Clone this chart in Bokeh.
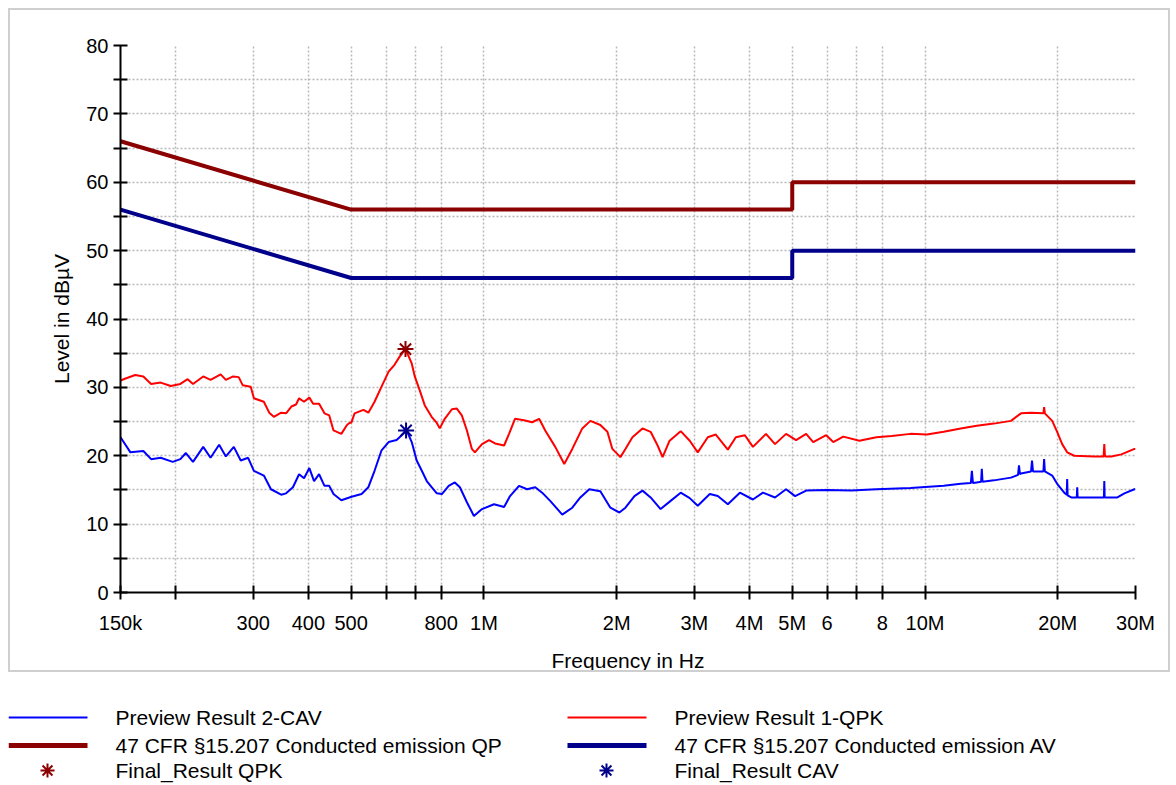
from bokeh.plotting import figure
from bokeh.models import Range1d, FixedTicker, CustomJSTickFormatter, Spacer
from bokeh.layouts import column, row
from bokeh.embed import file_html
from bokeh.resources import INLINE
from bokeh.core.properties import value

FONT = "Liberation Sans"

# ---------------- data ----------------
qpk_freq = [0.150, 0.154, 0.162, 0.169, 0.176, 0.185, 0.195, 0.205, 0.213, 0.219, 0.231, 0.240,
            0.253, 0.260, 0.270, 0.278, 0.284, 0.296, 0.301, 0.317, 0.326, 0.334, 0.347, 0.356,
            0.366, 0.375, 0.381, 0.391, 0.402, 0.410, 0.423, 0.435, 0.446, 0.456, 0.475, 0.488,
            0.493, 0.501, 0.509, 0.533, 0.547, 0.565, 0.586, 0.608, 0.627, 0.644, 0.664, 0.686,
            0.697, 0.715, 0.734, 0.761, 0.782, 0.794, 0.815, 0.846, 0.868, 0.891, 0.915, 0.939,
            0.954, 0.990, 1.027, 1.060, 1.111, 1.140, 1.176, 1.233, 1.286, 1.334, 1.377, 1.451,
            1.521, 1.586, 1.671, 1.743, 1.836, 1.905, 1.955, 2.039, 2.093, 2.171, 2.288, 2.387,
            2.476, 2.541, 2.636, 2.793, 2.928, 3.053, 3.217, 3.355, 3.572, 3.725, 3.905, 4.072,
            4.359, 4.570, 4.841, 5.102, 5.376, 5.577, 5.970, 6.193, 6.526, 7.100, 7.758, 8.400,
            9.272, 10.10, 11.02, 12.05, 13.10, 14.32, 15.66, 16.50, 17.39, 18.55, 18.62, 18.69,
            19.42, 19.93, 20.46, 21.00, 21.79, 24.19, 25.40, 25.49, 25.58, 26.45, 27.87, 29.83, 30.0]
qpk_level = [31.0, 31.3, 31.8, 31.6, 30.5, 30.7, 30.2, 30.5, 31.2, 30.5, 31.6, 31.1,
             31.9, 31.1, 31.6, 31.5, 30.3, 30.1, 28.4, 27.9, 26.3, 25.7, 26.3, 26.2,
             27.2, 27.5, 28.4, 27.9, 28.5, 27.6, 27.6, 26.2, 25.9, 23.7, 23.2, 24.4,
             24.7, 24.9, 26.2, 26.7, 26.3, 27.9, 30.1, 32.3, 33.3, 34.5, 35.6, 33.5,
             31.6, 29.6, 27.4, 25.7, 24.8, 24.0, 25.4, 26.8, 26.9, 25.9, 23.7, 21.0,
             20.5, 21.7, 22.3, 21.8, 21.5, 23.2, 25.4, 25.2, 24.9, 25.4, 23.7, 21.3,
             18.8, 21.0, 24.0, 25.1, 24.5, 23.5, 21.0, 19.8, 21.0, 22.7, 24.0, 23.5,
             21.5, 19.8, 22.2, 23.6, 22.2, 20.5, 22.7, 23.1, 20.9, 22.7, 23.0, 21.3,
             23.2, 21.7, 23.2, 22.3, 23.2, 22.0, 23.0, 22.0, 22.8, 22.2, 22.7, 22.9,
             23.2, 23.1, 23.5, 24.0, 24.4, 24.7, 25.1, 26.2, 26.3, 26.2, 27.1, 26.2,
             25.1, 23.5, 21.7, 20.5, 20.0, 19.9, 19.9, 21.7, 19.9, 19.9, 20.2, 21.0, 21.0]

cav_freq = [0.150, 0.158, 0.169, 0.176, 0.185, 0.197, 0.205, 0.211, 0.219, 0.231, 0.240, 0.251,
            0.260, 0.271, 0.281, 0.292, 0.301, 0.317, 0.329, 0.347, 0.356, 0.369, 0.381, 0.391,
            0.402, 0.412, 0.423, 0.435, 0.446, 0.456, 0.475, 0.501, 0.528, 0.547, 0.565, 0.586,
            0.608, 0.634, 0.651, 0.668, 0.686, 0.704, 0.723, 0.742, 0.761, 0.782, 0.803, 0.832,
            0.859, 0.882, 0.915, 0.949, 0.990, 1.054, 1.111, 1.146, 1.201, 1.253, 1.307, 1.355,
            1.413, 1.505, 1.586, 1.654, 1.733, 1.836, 1.935, 2.028, 2.093, 2.194, 2.288, 2.387,
            2.515, 2.650, 2.793, 2.928, 3.053, 3.251, 3.390, 3.572, 3.804, 4.072, 4.291, 4.570,
            4.841, 5.075, 5.376, 5.970, 6.806, 7.758, 9.272, 11.02, 12.05, 12.70, 12.77, 12.84,
            13.10, 13.40, 13.45, 13.50, 14.32, 15.66, 16.25, 16.33, 16.41, 16.50, 17.39, 17.48,
            17.57, 18.55, 18.62, 18.69, 19.42, 19.93, 20.68, 20.95, 21.00, 21.05, 21.45, 22.08,
            22.13, 22.18, 25.44, 25.49, 25.54, 27.29, 28.31, 29.83, 30.0]
cav_level = [22.7, 20.5, 20.7, 19.5, 19.7, 19.1, 19.5, 20.4, 19.1, 21.3, 19.7, 21.6,
             19.9, 21.3, 19.3, 19.7, 17.8, 17.1, 15.1, 14.3, 14.5, 15.4, 17.3, 16.7,
             18.2, 16.3, 17.3, 15.6, 15.6, 14.4, 13.5, 14.0, 14.4, 15.4, 17.8, 20.8,
             22.0, 22.3, 23.0, 23.7, 22.0, 19.3, 17.8, 16.3, 15.4, 14.5, 14.4, 15.6,
             16.1, 15.4, 13.2, 11.2, 12.2, 12.9, 12.5, 14.1, 15.6, 15.1, 15.4, 14.6,
             13.4, 11.4, 12.4, 13.9, 15.1, 14.8, 12.4, 11.7, 12.4, 14.1, 14.9, 13.9,
             12.2, 13.4, 14.6, 13.8, 12.7, 14.4, 14.1, 12.9, 14.6, 13.6, 14.6, 13.9,
             15.1, 14.1, 14.9, 15.0, 14.9, 15.1, 15.3, 15.6, 15.9, 16.0, 17.8, 16.0,
             16.1, 16.2, 18.1, 16.2, 16.4, 16.8, 17.2, 18.6, 17.3, 17.4, 17.7, 19.3,
             17.7, 17.7, 19.5, 17.7, 17.1, 15.9, 14.6, 14.3, 16.6, 14.2, 13.9, 13.9,
             15.4, 13.9, 13.9, 16.3, 13.9, 13.9, 14.5, 15.1, 15.1]

limit_freq = [0.15, 0.5, 5.0, 5.0, 30.0]
qp_limit = [66.0, 56.0, 56.0, 60.0, 60.0]
av_limit = [56.0, 46.0, 46.0, 50.0, 50.0]

final_qpk_freq = [0.664]
final_qpk_level = [35.6]
final_cav_freq = [0.666]
final_cav_level = [23.7]

x_ticks = [0.15, 0.2, 0.3, 0.4, 0.5, 0.6, 0.7, 0.8, 1, 2, 3, 4, 5, 6, 7, 8, 10, 20, 30]
x_tick_labels = ["150k", "", "300", "400", "500", "", "", "800", "1M", "2M", "3M", "4M",
                 "5M", "6", "", "8", "10M", "20M", "30M"]
y_major = [0, 10, 20, 30, 40, 50, 60, 70, 80]
y_minor = [5, 15, 25, 35, 45, 55, 65, 75]
y_grid = [0, 5, 10, 15, 20, 25, 30, 35, 40, 45, 50, 55, 60, 65, 70, 75, 80]

legend_labels_left = ["Preview Result 2-CAV", "47 CFR \u00a715.207 Conducted emission QP", "Final_Result QPK"]
legend_labels_right = ["Preview Result 1-QPK", "47 CFR \u00a715.207 Conducted emission AV", "Final_Result CAV"]

# ---------------- colours ----------------
C_QPK = "#ff0000"
C_CAV = "#0000ff"
C_QP = "#8b0000"
C_AV = "#00008b"
C_GRID = "#b8b8b8"

# ---------------- chart ----------------
p = figure(width=1162, height=664, x_axis_type="log",
           x_range=Range1d(0.15, 30), y_range=Range1d(0, 80),
           output_backend="svg", toolbar_location=None,
           min_border_left=110, min_border_right=37, min_border_top=35, min_border_bottom=82,
           styles={"border": "2px solid #cfcfcf", "box-sizing": "border-box"})
p.outline_line_color = None
p.background_fill_color = "white"
p.border_fill_color = "white"

p.xaxis.ticker = FixedTicker(ticks=x_ticks)
p.xaxis.formatter = CustomJSTickFormatter(args=dict(tvals=x_ticks, tlabels=x_tick_labels), code="""
    for (let i = 0; i < tvals.length; i++) {
        if (Math.abs(tvals[i] - tick) / tvals[i] < 1e-6) return tlabels[i];
    }
    return "";
""")
p.xgrid.ticker = FixedTicker(ticks=x_ticks)
p.yaxis.ticker = FixedTicker(ticks=y_major, minor_ticks=y_minor)
p.ygrid.ticker = FixedTicker(ticks=y_grid)

for g in (p.xgrid, p.ygrid):
    g.grid_line_color = C_GRID
    g.grid_line_dash = "2 2"
    g.grid_line_width = 1.5

for ax in (p.xaxis, p.yaxis):
    ax.axis_line_width = 2
    ax.axis_line_color = "black"
    ax.major_tick_line_width = 2
    ax.minor_tick_line_width = 2
    ax.major_tick_in = 7
    ax.major_tick_out = 7
    ax.minor_tick_in = 7
    ax.minor_tick_out = 7
    ax.major_label_text_font = FONT
    ax.major_label_text_font_size = "20px"
    ax.major_label_text_color = "black"
    ax.axis_label_text_font = FONT
    ax.axis_label_text_font_size = "21px"
    ax.axis_label_text_font_style = "normal"
    ax.axis_label_text_color = "black"

p.xaxis.axis_label = "Frequency in Hz"
p.yaxis.axis_label = "Level in dB\u00b5V"
p.xaxis.major_label_standoff = 12
p.yaxis.major_label_standoff = 5
p.xaxis.axis_label_standoff = 12
p.yaxis.axis_label_standoff = 10

p.line(limit_freq, qp_limit, line_color=C_QP, line_width=4)
p.line(limit_freq, av_limit, line_color=C_AV, line_width=4)
p.line(qpk_freq, qpk_level, line_color=C_QPK, line_width=2)
p.line(cav_freq, cav_level, line_color=C_CAV, line_width=2)
p.scatter(final_qpk_freq, final_qpk_level, marker="asterisk", size=16, line_width=2, line_color=C_QP)
p.scatter(final_cav_freq, final_cav_level, marker="asterisk", size=16, line_width=2, line_color=C_AV)

# ---------------- legend panel ----------------
LW, LH = 1162, 112
lg = figure(width=LW, height=LH, x_range=Range1d(0, LW), y_range=Range1d(LH, 0),
            x_axis_location=None, y_axis_location=None,
            output_backend="svg", toolbar_location=None,
            min_border=0, min_border_left=0, min_border_right=0, min_border_top=0, min_border_bottom=0)
lg.grid.visible = False
lg.outline_line_color = None

rows_y = [45, 73, 98]
col_x = [0, 559]
line_len = 79
text_dx = 107
star_dx = 39

def add_column(x0, labels, thin_color, thick_color, star_color):
    lg.line([x0, x0 + line_len], [rows_y[0], rows_y[0]], line_color=thin_color, line_width=2)
    lg.line([x0, x0 + line_len], [rows_y[1], rows_y[1]], line_color=thick_color, line_width=5)
    lg.scatter([x0 + star_dx], [rows_y[2]], marker="asterisk", size=14, line_width=2, line_color=star_color)
    lg.text([x0 + text_dx] * 3, rows_y, text=labels, text_font=value(FONT), text_font_size="21px",
            text_baseline="middle", text_align="left", text_color="black")

add_column(col_x[0], legend_labels_left, C_CAV, C_QP, C_QP)
add_column(col_x[1], legend_labels_right, C_QPK, C_AV, C_AV)

layout = column(Spacer(height=8),
                row(Spacer(width=8), p),
                row(Spacer(width=8), lg),
                spacing=0)
open("out.html", "w").write(file_html(layout, INLINE))
